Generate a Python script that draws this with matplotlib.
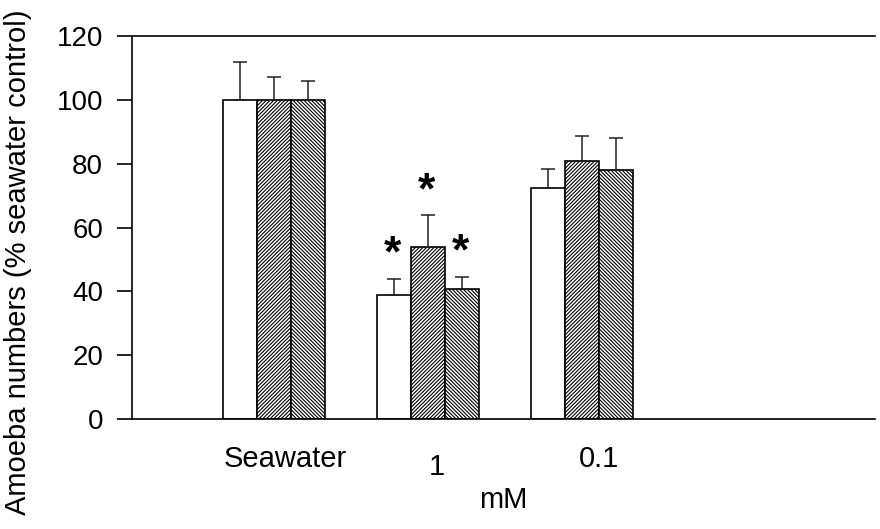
import matplotlib.pyplot as plt
import numpy as np

plt.rcParams['font.family'] = ['Liberation Sans', 'DejaVu Sans']

# data
grupper = ["Seawater", "1", "0.1"]
serie1 = [100, 38.9, 72.3]
serie2 = [100, 53.8, 80.7]
serie3 = [100, 40.6, 77.9]
fel1 = [12.0, 5.0, 6.0]
fel2 = [7.0, 10.0, 8.0]
fel3 = [6.0, 4.0, 10.0]
stjarnor = [[False, True, False], [False, True, False], [False, True, False]]  # per serie

fig = plt.figure(figsize=(8.8, 5.29), dpi=100)
ax = fig.add_axes([132/880, 1-419/529, 743/880, 383/529])

x = np.array([1, 2, 3])
w = 0.22
hatches = [None, '/' * 9, '\\' * 9]
plt.rcParams['hatch.linewidth'] = 0.8

for i, (vals, fel, h) in enumerate(zip([serie1, serie2, serie3], [fel1, fel2, fel3], hatches)):
    pos = x + (i - 1) * w
    ax.bar(pos, vals, width=w, color='white', edgecolor='black', linewidth=1.2,
           hatch=h, zorder=2)
    ax.errorbar(pos, vals, yerr=[np.zeros(3), fel], fmt='none', ecolor='#222222',
                elinewidth=1.1, capsize=5, capthick=1.1, zorder=3)
    for j in range(3):
        if stjarnor[i][j]:
            ytop = vals[j] + fel[j]
            ax.text(pos[j] - 0.01, ytop + 1.0, '*', ha='center', va='bottom',
                    fontsize=32, fontweight='bold')

ax.set_xlim(1 - 142/154, 1 - 142/154 + 743/154)
ax.set_ylim(0, 120)
ax.set_yticks([0, 20, 40, 60, 80, 100, 120])
ax.tick_params(axis='y', labelsize=20, length=10.8, width=1.2, direction='out', pad=10)
ax.set_xticks([])
ax.spines['right'].set_visible(False)
for s in ['left', 'top', 'bottom']:
    ax.spines[s].set_linewidth(1.2)

tr = ax.get_xaxis_transform()
ax.text(1.071, -0.104, grupper[0], transform=tr, ha='center', va='center', fontsize=21)
ax.text(2.058, -0.125, grupper[1], transform=tr, ha='center', va='center', fontsize=21)
ax.text(3.11, -0.104, grupper[2], transform=tr, ha='center', va='center', fontsize=21)
ax.text(2.487, -0.211, "mM", transform=tr, ha='center', va='center', fontsize=21)

fig.text(18/880, 1-262/529, "Amoeba numbers (% seawater control)", rotation=90,
         ha='center', va='center', fontsize=21)

fig.savefig("out.png", dpi=100)
